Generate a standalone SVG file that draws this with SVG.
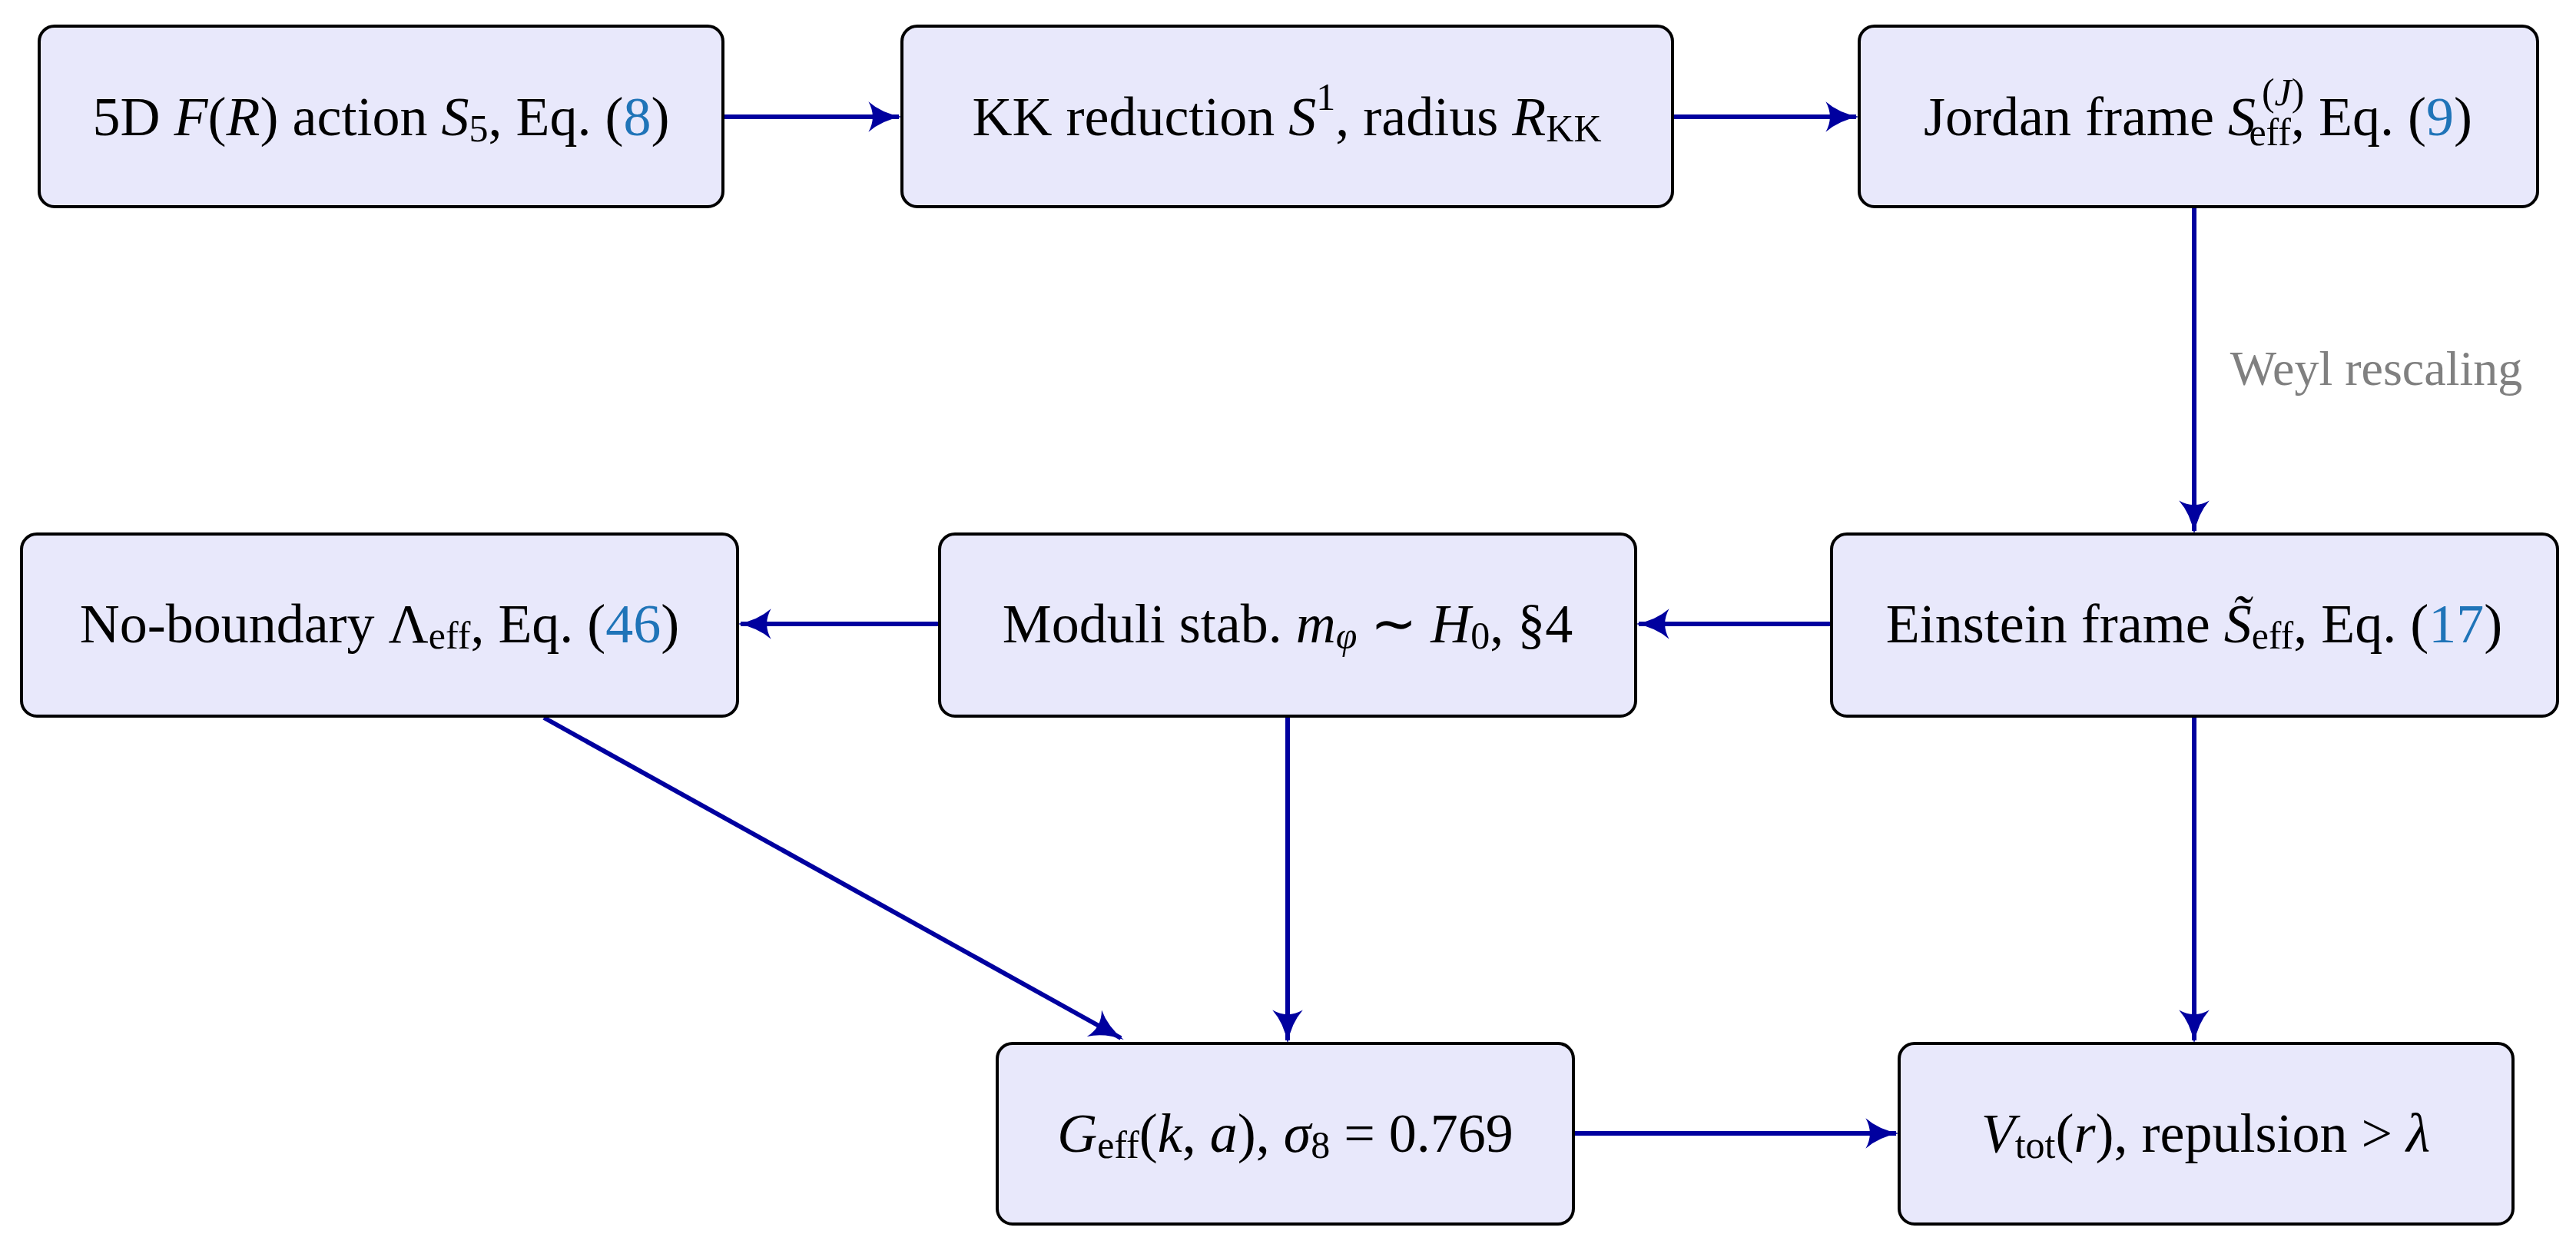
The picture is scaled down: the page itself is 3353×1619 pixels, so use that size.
<svg xmlns="http://www.w3.org/2000/svg" width="3353" height="1619" viewBox="0 0 3353 1619">
<style>
.n{fill:#e8e8fb;stroke:#000;stroke-width:4}
text{font-family:"Liberation Serif",serif;font-size:72px;fill:#000;text-anchor:middle;dominant-baseline:central}
.i{font-style:italic}
.l{fill:#1f74b8}
.e{stroke:#00009f;stroke-width:6;fill:none;marker-end:url(#b)}
</style>
<defs>
<marker id="b" viewBox="0 0 20 20" markerWidth="44" markerHeight="44" refX="18" refY="10" orient="auto" markerUnits="userSpaceOnUse"><path d="M0,1 Q8,8 20,10 Q8,12 0,19 Q5,10 0,1Z" fill="#00009f"/></marker></defs>
<g id="edges">
<path class="e" d="M941,152H1170"/>
<path class="e" d="M2177,152H2416"/>
<path class="e" d="M2856,269V691"/>
<path class="e" d="M2384,812H2133"/>
<path class="e" d="M1223,812H964"/>
<path class="e" d="M708,934L1459,1351"/>
<path class="e" d="M1676,932V1354"/>
<path class="e" d="M2856,932V1354"/>
<path class="e" d="M2048,1475H2468"/>
<text x="3093" y="479" style="fill:#808080;font-size:64px">Weyl rescaling</text>
</g>
<g id="n1"><rect class="n" x="51" y="34" width="890" height="235" rx="20"/><text x="496" y="152">5D <tspan class="i">F</tspan>(<tspan class="i">R</tspan>) action <tspan class="i">S</tspan><tspan font-size="50" dy="15">5</tspan><tspan dy="-15">, Eq. (</tspan><tspan class="l">8</tspan>)</text></g>
<g id="n2"><rect class="n" x="1174" y="34" width="1003" height="235" rx="20"/><text x="1675" y="152">KK reduction <tspan class="i">S</tspan><tspan font-size="50" dy="-26">1</tspan><tspan dy="26">, radius </tspan><tspan class="i">R</tspan><tspan font-size="50" dy="15">KK</tspan></text></g>
<g id="n3"><rect class="n" x="2420" y="34" width="883" height="235" rx="20"/><text x="2861" y="152">Jordan frame <tspan class="i">S</tspan><tspan font-size="50" dx="8" dy="-32">(<tspan class="i">J</tspan>)</tspan><tspan font-size="50" dx="-72" dy="52">eff</tspan><tspan dy="-20">, Eq. (</tspan><tspan class="l">9</tspan>)</text></g>
<g id="n4"><rect class="n" x="2384" y="695" width="945" height="237" rx="20"/><text x="2856" y="812">Einstein frame <tspan class="i">S̃</tspan><tspan font-size="50" dy="15">eff</tspan><tspan dy="-15">, Eq. (</tspan><tspan class="l">17</tspan>)</text></g>
<g id="n5"><rect class="n" x="1223" y="695" width="906" height="237" rx="20"/><text x="1676" y="812">Moduli stab. <tspan class="i">m</tspan><tspan class="i" font-size="50" dy="15">φ</tspan><tspan dy="-15"> ∼ </tspan><tspan class="i">H</tspan><tspan font-size="50" dy="15">0</tspan><tspan dy="-15">, §4</tspan></text></g>
<g id="n6"><rect class="n" x="28" y="695" width="932" height="237" rx="20"/><text x="494" y="812">No-boundary Λ<tspan font-size="50" dy="15">eff</tspan><tspan dy="-15">, Eq. (</tspan><tspan class="l">46</tspan>)</text></g>
<g id="n7"><rect class="n" x="1298" y="1358" width="750" height="235" rx="20"/><text x="1673" y="1475"><tspan class="i">G</tspan><tspan font-size="50" dy="15">eff</tspan><tspan dy="-15">(</tspan><tspan class="i">k</tspan>, <tspan class="i">a</tspan>), <tspan class="i">σ</tspan><tspan font-size="50" dy="15">8</tspan><tspan dy="-15"> = 0.769</tspan></text></g>
<g id="n8"><rect class="n" x="2472" y="1358" width="799" height="235" rx="20"/><text x="2871" y="1475"><tspan class="i">V</tspan><tspan font-size="50" dy="15">tot</tspan><tspan dy="-15">(</tspan><tspan class="i">r</tspan>), repulsion &gt; <tspan class="i">λ</tspan></text></g>
</svg>
